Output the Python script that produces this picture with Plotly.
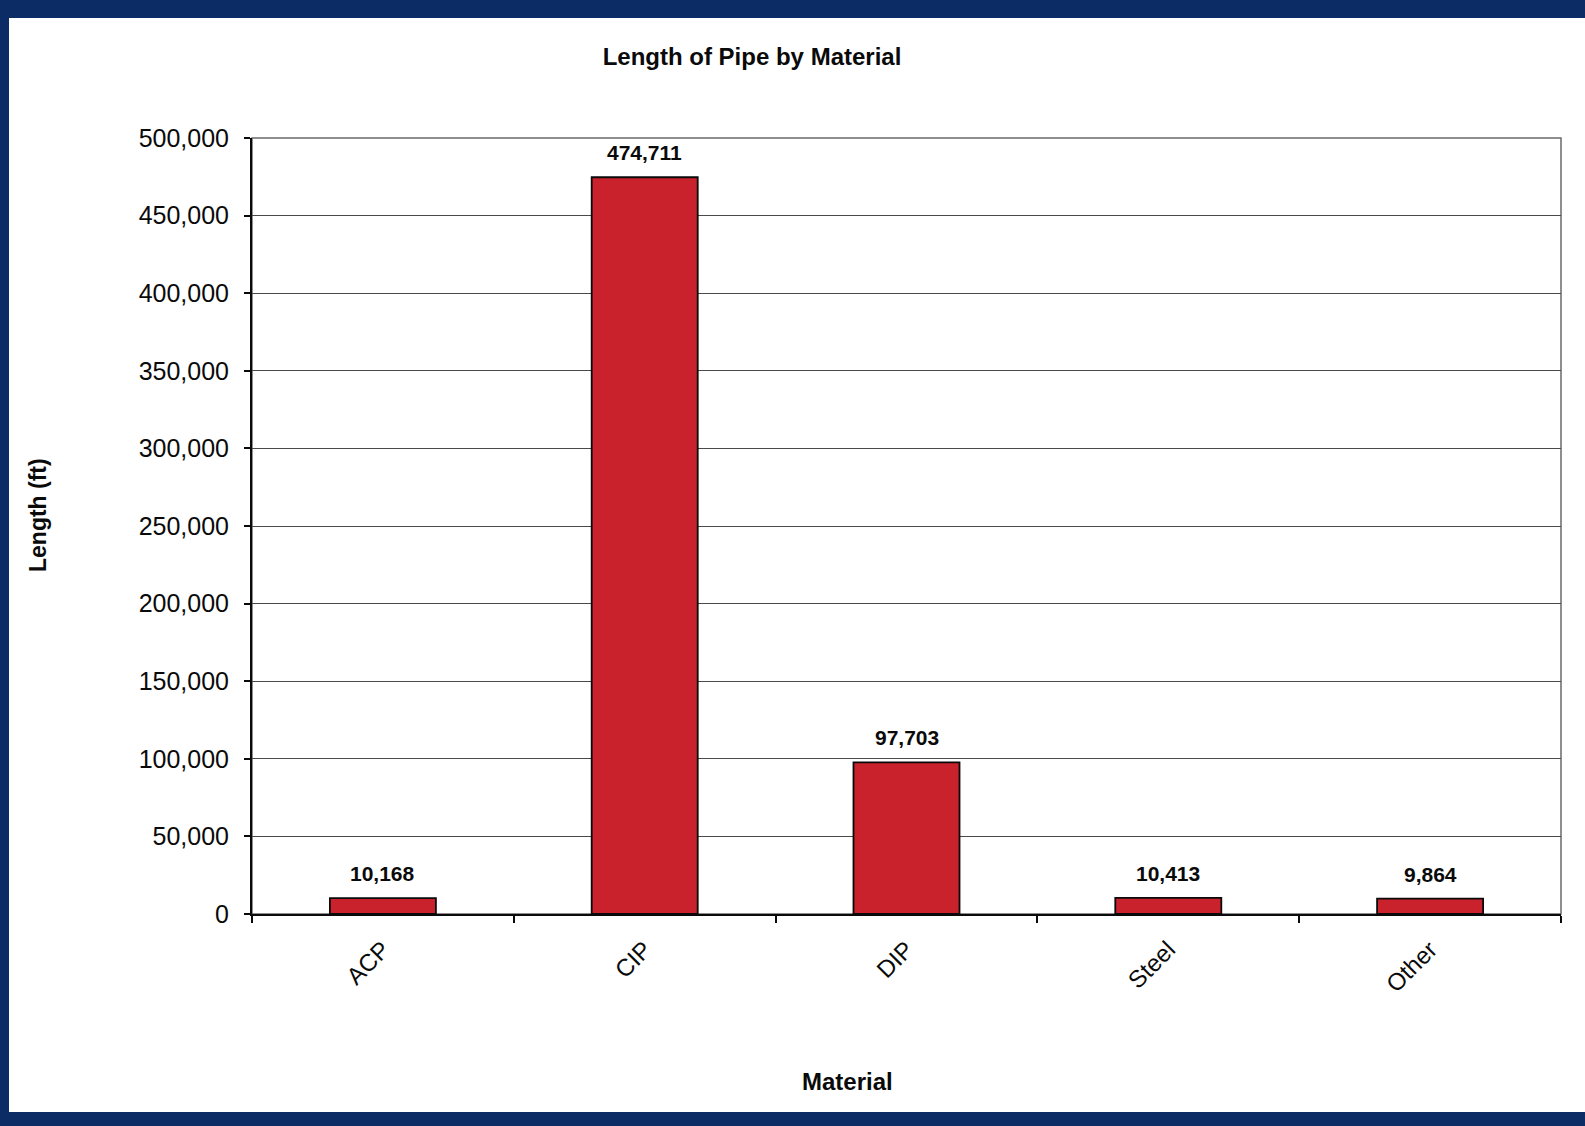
import plotly.graph_objects as go

# Pipe inventory by material
materials = ["ACP", "CIP", "DIP", "Steel", "Other"]
length_ft = [10168, 474711, 97703, 10413, 9864]

y_ticks = [0, 50000, 100000, 150000, 200000, 250000, 300000, 350000, 400000, 450000, 500000]

W, H = 1585, 1126
L, R, T, B = 252, 24, 138, 212

NAVY = "#0c2c66"
BAR_RED = "#c9222c"
INK = "#0a0a0a"
SANS = "Liberation Sans, Arial, sans-serif"

fig = go.Figure()
fig.add_trace(go.Bar(
    x=materials,
    y=length_ft,
    marker=dict(color=BAR_RED, line=dict(color=INK, width=1.8)),
    width=0.405,
    hoverinfo="x+y",
))

# value labels above each bar
for m, v in zip(materials, length_ft):
    fig.add_annotation(
        x=m, y=v, text=f"<b>{v:,}</b>", showarrow=False,
        yanchor="bottom", yshift=11,
        font=dict(family=SANS, size=21, color=INK),
    )

def px_x(p):
    return (p - L) / (W - L - R)

def px_y(p):
    return 1 - (p - T) / (H - T - B)

# axis titles placed at fixed page positions
fig.add_annotation(
    xref="paper", yref="paper", x=px_x(847), y=px_y(1081),
    text="<b>Material</b>", showarrow=False, xanchor="center", yanchor="middle",
    font=dict(family=SANS, size=24, color=INK),
)
fig.add_annotation(
    xref="paper", yref="paper", x=px_x(38), y=px_y(515),
    text="<b>Length (ft)</b>", showarrow=False, textangle=-90,
    xanchor="center", yanchor="middle",
    font=dict(family=SANS, size=23, color=INK),
)

shapes = [
    # page border
    dict(type="rect", xref="paper", yref="paper", x0=px_x(-5), x1=px_x(W + 5),
         y0=px_y(-5), y1=px_y(18), fillcolor=NAVY, line=dict(width=0), layer="below"),
    dict(type="rect", xref="paper", yref="paper", x0=px_x(-5), x1=px_x(9),
         y0=px_y(H + 5), y1=px_y(-5), fillcolor=NAVY, line=dict(width=0), layer="below"),
    dict(type="rect", xref="paper", yref="paper", x0=px_x(-5), x1=px_x(W + 5),
         y0=px_y(H + 5), y1=px_y(1112), fillcolor=NAVY, line=dict(width=0), layer="below"),
    # plot area frame
    dict(type="rect", xref="paper", yref="paper", x0=0, x1=1, y0=0, y1=1,
         line=dict(color="#6a6a6a", width=1.5), layer="below"),
]

fig.update_layout(
    width=W, height=H,
    margin=dict(l=L, r=R, t=T, b=B),
    paper_bgcolor="white",
    plot_bgcolor="white",
    showlegend=False,
    shapes=shapes,
    title=dict(
        text="<b>Length of Pipe by Material</b>",
        x=752 / W, xanchor="center", xref="container",
        y=1 - 57 / H, yanchor="middle", yref="container",
        font=dict(family=SANS, size=24, color=INK),
    ),
    font=dict(family=SANS, color=INK),
)

fig.update_xaxes(
    showline=True, linecolor=INK, linewidth=2,
    ticks="outside", tickson="boundaries", ticklen=7, tickcolor=INK, tickwidth=1.5,
    tickangle=-45, ticklabelstandoff=10,
    tickfont=dict(family=SANS, size=24, color=INK),
    showgrid=False,
)

fig.update_yaxes(
    range=[0, 500000],
    tickvals=y_ticks,
    tickformat=",",
    showline=True, linecolor=INK, linewidth=2,
    ticks="outside", ticklen=6, tickcolor=INK, tickwidth=1.5,
    ticklabelstandoff=10,
    tickfont=dict(family=SANS, size=25, color=INK),
    showgrid=True, gridcolor="#4a4a4a", gridwidth=1.3,
    zeroline=False,
)

fig.write_html("out.html")
